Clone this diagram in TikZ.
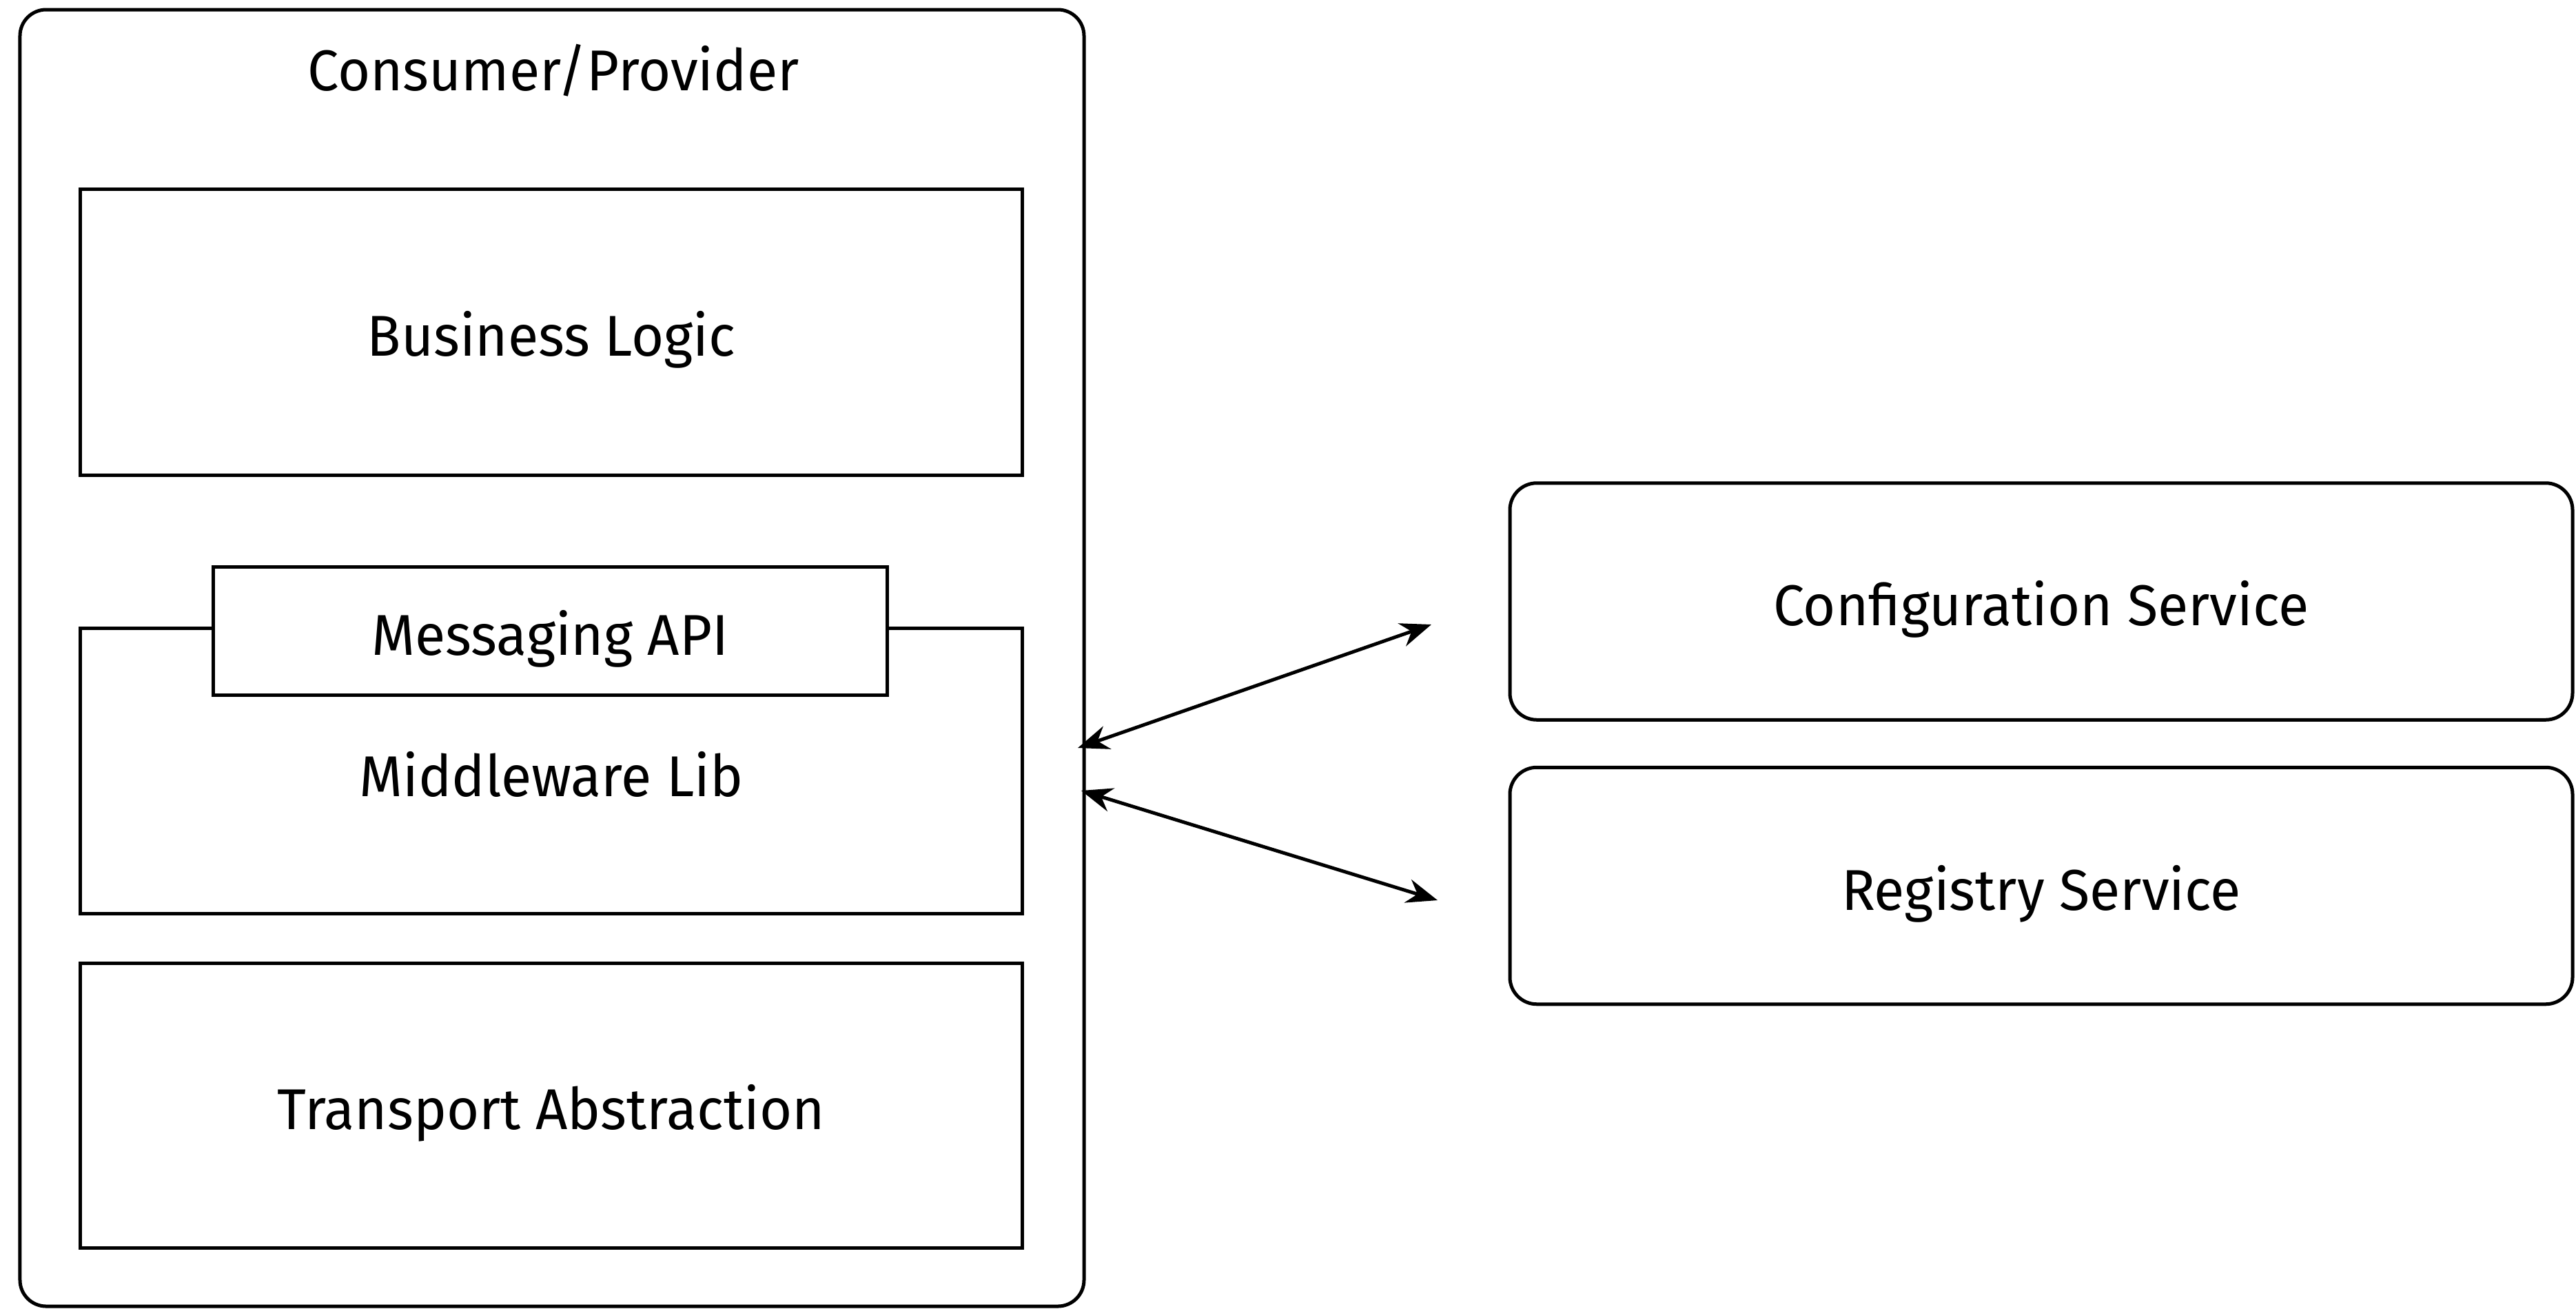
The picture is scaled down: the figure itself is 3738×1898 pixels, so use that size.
\documentclass[tikz,border=0pt]{standalone}
\usepackage{fontspec}
\setmainfont{Fira Sans}[FakeStretch=0.97]
\usetikzlibrary{arrows.meta}
\begin{document}
\begin{tikzpicture}[x=0.2pt,y=-0.2pt,
  lbl/.style={font=\fontsize{16.7}{20}\selectfont},
  boxlbl/.style={lbl,text height=14pt,text depth=0pt},
  layer/.style={draw,line width=1pt,rectangle,minimum width=273.2pt,inner sep=0pt,boxlbl},
  svc/.style={draw,line width=1pt,rectangle,rounded corners=7.8pt,minimum width=308.4pt,minimum height=68.7pt,inner sep=0pt,boxlbl},
  conn/.style={line width=1pt,{Stealth[length=9pt,width=7pt]}-{Stealth[length=9pt,width=7pt]}}]
\useasboundingbox (0,0) rectangle (3738,1898);
\node[draw,line width=1pt,rounded corners=7.6pt,minimum width=308.8pt,minimum height=376.2pt,inner sep=0pt] (outer) at (801,954.5) {};
\node[boxlbl] (title) at (803,96) {Consumer/Provider};
\node[layer,minimum height=83pt] (bl) at (800,481.5) {Business Logic};
\node[layer,minimum height=82.8pt] (mw) at (800,1118) {};
\node[boxlbl] (mwt) at (800,1120) {Middleware Lib};
\node[draw,fill=white,line width=1pt,minimum width=195.4pt,minimum height=37.2pt,inner sep=0pt,boxlbl] (api) at (798.5,915) {Messaging API};
\node[layer,minimum height=82.6pt] (ta) at (800,1603.5) {Transport Abstraction};
\node[svc] (cfg) at (2962,872.5) {Configuration Service};
\node[svc] (reg) at (2962,1285) {Registry Service};
\coordinate (c1l) at (1564,1085);
\coordinate (c1r) at (2077,906);
\coordinate (c2l) at (1569,1147);
\coordinate (c2r) at (2086,1306);
\draw[conn] (c1l) -- (c1r);
\draw[conn] (c2l) -- (c2r);
\end{tikzpicture}
\end{document}
